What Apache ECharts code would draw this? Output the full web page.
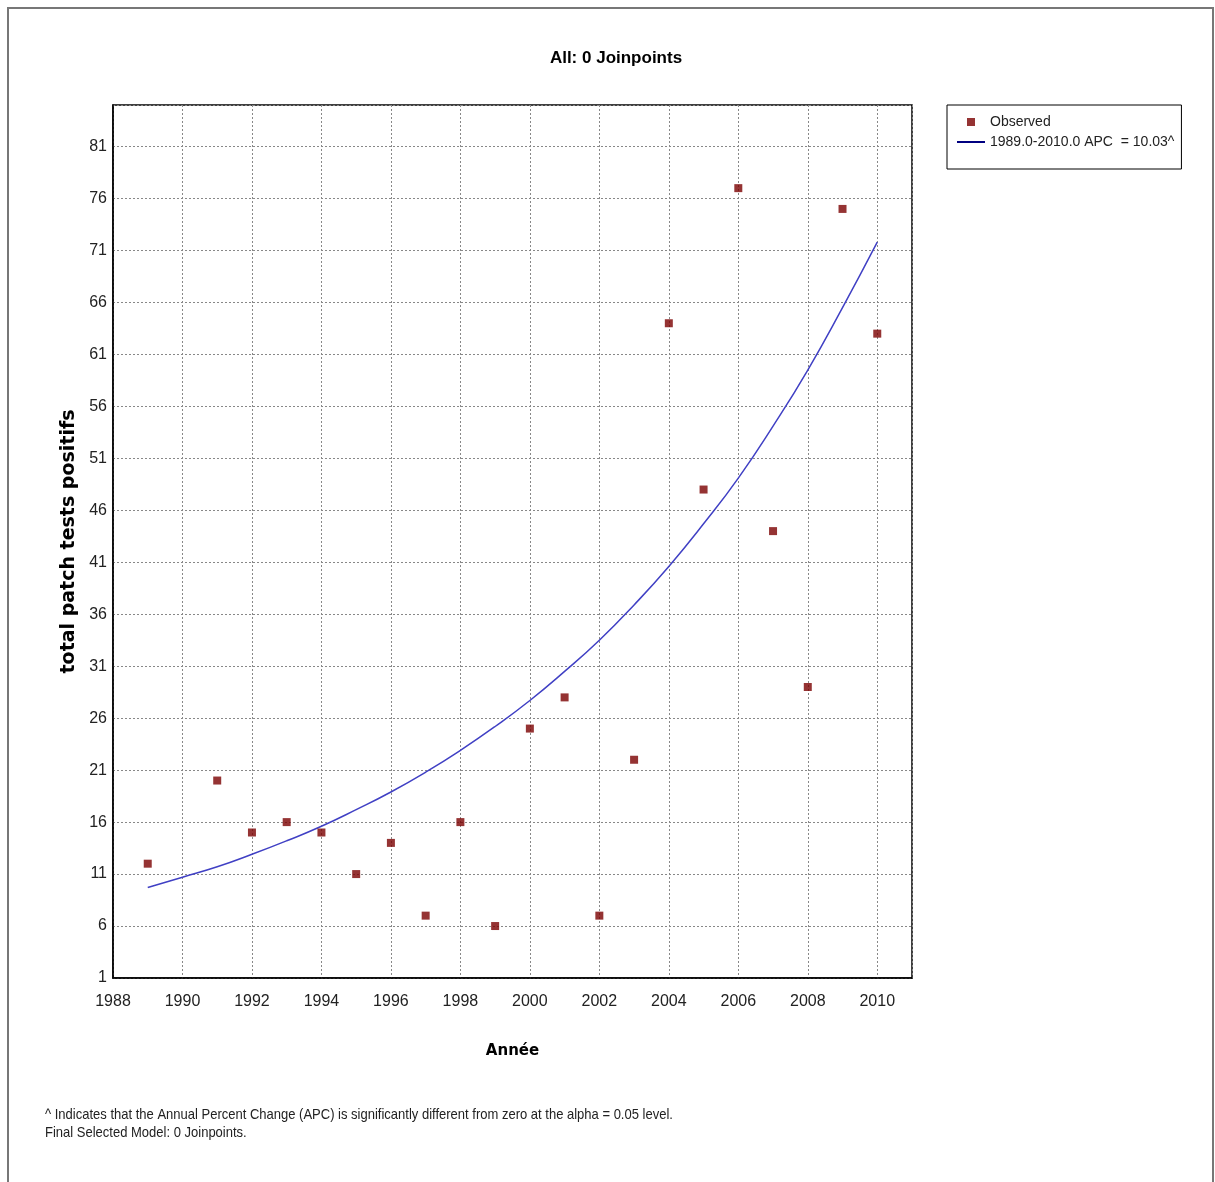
<!DOCTYPE html>
<html>
<head>
<meta charset="utf-8">
<script src="https://cdn.jsdelivr.net/npm/echarts@6/dist/echarts.min.js"></script>
<style>
html,body{margin:0;padding:0;background:#fff;}
#chart{width:1215px;height:1182px;}
</style>
</head>
<body>
<div id="chart"></div>
<script>
const obsYears = [1989, 1991, 1992, 1993, 1994, 1995, 1996, 1997, 1998, 1999, 2000, 2001, 2002, 2003, 2004, 2005, 2006, 2007, 2008, 2009, 2010];
const obsValues = [12, 20, 15, 16, 15, 11, 14, 7, 16, 6, 25, 28, 7, 22, 64, 48, 77, 44, 29, 75, 63];
const fitYears = [1989, 1990, 1991, 1992, 1993, 1994, 1995, 1996, 1997, 1998, 1999, 2000, 2001, 2002, 2003, 2004, 2005, 2006, 2007, 2008, 2009, 2010];
const fitValues = [9.7, 10.7, 11.7, 12.9, 14.2, 15.6, 17.2, 18.9, 20.8, 22.9, 25.2, 27.7, 30.5, 33.5, 36.9, 40.6, 44.7, 49.1, 54.1, 59.5, 65.5, 71.8];
const titleText = 'All: 0 Joinpoints';
const xName = 'Année';
const yName = 'total patch tests positifs';
const obsName = 'Observed';
const fitName = '1989.0-2010.0 APC  = 10.03^';
const footLine1 = '^ Indicates that the Annual Percent Change (APC) is significantly different from zero at the alpha = 0.05 level.';
const footLine2 = 'Final Selected Model: 0 Joinpoints.';

const sans = '"Liberation Sans", Arial, sans-serif';
const chart = echarts.init(document.getElementById('chart'));
chart.setOption({
  animation: false,
  backgroundColor: '#fff',
  title: {
    text: titleText, left: 611, top: 45, textAlign: 'center',
    textStyle: { fontFamily: sans, fontWeight: 'bold', fontSize: 17, color: '#000' }
  },
  legend: {
    orient: 'vertical', left: 947, top: 105,
    borderColor: '#000', borderWidth: 1, padding: [10, 7, 20, 10],
    itemWidth: 28, itemHeight: 8, itemGap: 6,
    textStyle: { fontFamily: sans, fontSize: 14, color: '#222' },
    data: [
      { name: obsName, icon: 'path://M0,0h1v1h-1z', itemStyle: { color: '#7a0000' } },
      { name: fitName, icon: 'path://M0,0h28v2h-28z', itemStyle: { color: '#000080' } }
    ]
  },
  grid: {
    left: 113, top: 105, right: 303, bottom: 204,
    show: true, borderColor: '#000', borderWidth: 1.5, backgroundColor: '#fff'
  },
  xAxis: {
    type: 'value', min: 1988, max: 2011, interval: 2,
    name: xName, nameLocation: 'middle', nameGap: 66,
    nameTextStyle: { fontFamily: 'DejaVu Sans', fontWeight: 'bold', fontSize: 15, color: '#000' },
    axisLine: { show: true, lineStyle: { color: '#000', width: 1.5 } },
    axisTick: { show: false },
    axisLabel: { fontFamily: sans, fontSize: 16, color: '#222', margin: 16, showMaxLabel: false, formatter: v => String(v) },
    splitLine: { show: true, lineStyle: { color: '#888', type: [2, 2], width: 1 } }
  },
  yAxis: {
    type: 'value', min: 1, max: 85, interval: 5,
    name: yName, nameLocation: 'middle', nameGap: 34, nameRotate: 90,
    nameTextStyle: { fontFamily: 'DejaVu Sans', fontWeight: 'bold', fontSize: 19, color: '#000' },
    axisLine: { show: true, lineStyle: { color: '#000', width: 1.5 } },
    axisTick: { show: false },
    axisLabel: { fontFamily: sans, fontSize: 16, color: '#222', margin: 6, showMaxLabel: false },
    splitLine: { show: true, lineStyle: { color: '#888', type: [2, 2], width: 1 } }
  },
  series: [
    {
      name: obsName, type: 'scatter', symbol: 'rect', symbolSize: 8,
      itemStyle: { color: '#7a0000' },
      data: obsYears.map((y, i) => [y, obsValues[i]]),
      z: 3
    },
    {
      name: fitName, type: 'line', smooth: true, showSymbol: false, symbol: 'none',
      lineStyle: { color: '#4040c4', width: 1.5 },
      itemStyle: { color: '#000080' },
      data: fitYears.map((y, i) => [y, fitValues[i]]),
      z: 2
    }
  ],
  graphic: [
    { type: 'rect', shape: { x: 8, y: 8, width: 1205, height: 1176 }, style: { fill: 'none', stroke: '#777', lineWidth: 2 }, silent: true },
    { type: 'text', x: 45, y: 1107, scaleX: 0.867, style: { text: footLine1, font: '15px ' + sans, fill: '#222' } },
    { type: 'text', x: 45, y: 1125, scaleX: 0.867, style: { text: footLine2, font: '15px ' + sans, fill: '#222' } }
  ]
});
</script>
</body>
</html>
